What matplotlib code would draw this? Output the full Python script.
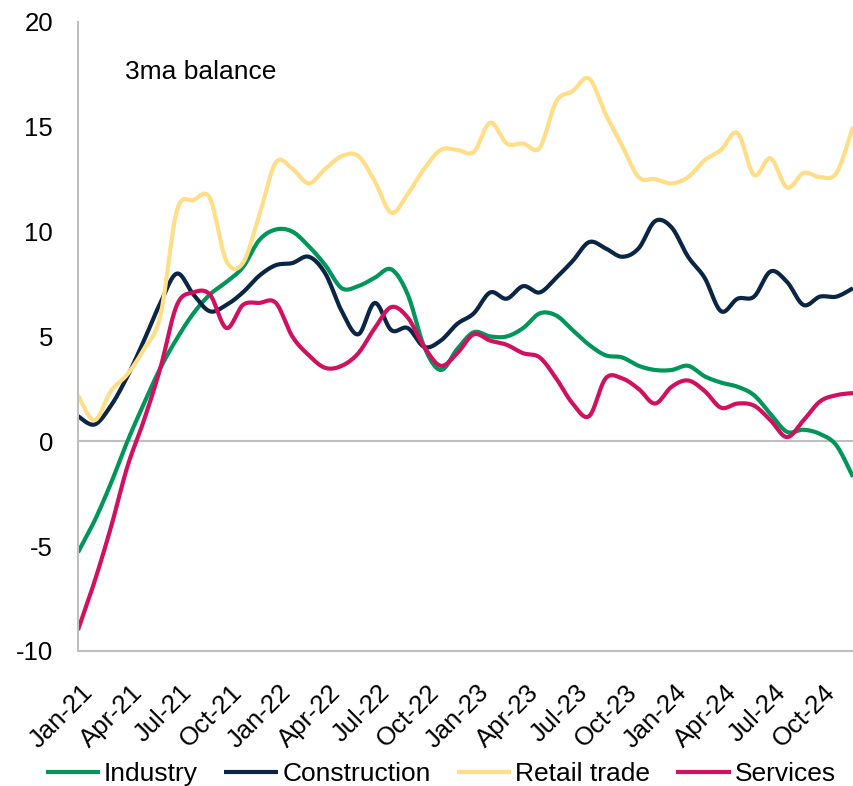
import numpy as np
import matplotlib
matplotlib.use("Agg")
import matplotlib.pyplot as plt
import matplotlib.transforms as mtransforms

plt.rcParams['font.family'] = ['Liberation Sans', 'DejaVu Sans']
plt.rcParams['axes.unicode_minus'] = False

# monthly 3ma balances, Jan-21 .. Dec-24
months = ['Jan', 'Feb', 'Mar', 'Apr', 'May', 'Jun', 'Jul', 'Aug', 'Sep', 'Oct', 'Nov', 'Dec']
years = ['21', '22', '23', '24']
dates = [m + '-' + y for y in years for m in months]

industry = [-5.3, -3.8, -2.0, 0.0, 1.8, 3.5, 4.9, 6.1, 7.0, 7.6, 8.3, 9.6,
            10.1, 10.0, 9.3, 8.4, 7.3, 7.4, 7.8, 8.2, 7.0, 4.5, 3.4, 4.4,
            5.2, 5.0, 5.0, 5.4, 6.1, 6.0, 5.3, 4.6, 4.1, 4.0, 3.6, 3.4,
            3.4, 3.6, 3.1, 2.8, 2.6, 2.2, 1.3, 0.45, 0.55, 0.35, -0.2, -1.7]
construction = [1.2, 0.8, 1.7, 3.1, 4.8, 6.6, 8.0, 7.0, 6.2, 6.5, 7.1, 7.9,
                8.4, 8.5, 8.8, 8.0, 6.2, 5.1, 6.6, 5.3, 5.4, 4.5, 4.8, 5.6,
                6.1, 7.1, 6.8, 7.4, 7.1, 7.8, 8.6, 9.5, 9.2, 8.8, 9.2, 10.5,
                10.2, 8.8, 7.8, 6.2, 6.8, 6.9, 8.1, 7.6, 6.5, 6.9, 6.9, 7.3]
retail = [2.2, 1.0, 2.4, 3.2, 4.4, 6.0, 11.0, 11.5, 11.6, 8.6, 8.5, 10.8,
          13.3, 13.0, 12.3, 13.0, 13.6, 13.6, 12.4, 10.9, 11.8, 13.0, 13.9, 13.9,
          13.8, 15.2, 14.2, 14.2, 14.0, 16.2, 16.7, 17.3, 15.6, 14.1, 12.6, 12.5,
          12.3, 12.6, 13.4, 13.9, 14.7, 12.7, 13.5, 12.1, 12.8, 12.6, 12.8, 15.0]
services = [-9.0, -6.7, -4.1, -1.2, 1.0, 3.5, 6.5, 7.1, 7.0, 5.4, 6.5, 6.6,
            6.6, 5.0, 4.1, 3.5, 3.6, 4.2, 5.4, 6.4, 5.9, 4.5, 3.6, 4.2,
            5.1, 4.8, 4.6, 4.2, 4.0, 3.0, 1.8, 1.2, 3.0, 3.0, 2.5, 1.8,
            2.6, 2.9, 2.4, 1.6, 1.8, 1.7, 1.0, 0.2, 1.0, 1.9, 2.2, 2.3]

series = [
    ('Industry', industry, '#00965A'),
    ('Construction', construction, '#0B2545'),
    ('Retail trade', retail, '#FFDE87'),
    ('Services', services, '#D1105F'),
]


# Excel-like smoothed line (Catmull-Rom through the points)
def smooth(y, steps=12):
    y = np.asarray(y, dtype=float)
    x = np.arange(len(y), dtype=float)
    px = np.concatenate([[x[0]], x, [x[-1]]])
    py = np.concatenate([[y[0]], y, [y[-1]]])
    xs, ys = [], []
    t = np.linspace(0, 1, steps, endpoint=False)
    for i in range(1, len(px) - 2):
        for p, out in ((px, xs), (py, ys)):
            p0, p1, p2, p3 = p[i - 1], p[i], p[i + 1], p[i + 2]
            out.extend(0.5 * (2 * p1 + (-p0 + p2) * t
                              + (2 * p0 - 5 * p1 + 4 * p2 - p3) * t ** 2
                              + (-p0 + 3 * p1 - 3 * p2 + p3) * t ** 3))
    xs.append(x[-1])
    ys.append(y[-1])
    return np.array(xs), np.array(ys)


fs = 18.5
fig = plt.figure(figsize=(8.54, 7.86), dpi=100)
ax = fig.add_axes([0.0913, 0.1718, 0.9075, 0.8003])

for name, vals, color in series:
    sx, sy = smooth(vals)
    ax.plot(sx, sy, color=color, lw=3, label=name, solid_capstyle='butt')

ax.axhline(0, color='#BFBFBF', lw=1.5, zorder=0)
ax.set_xlim(0, len(dates) - 1)
ax.set_ylim(-10, 20)
ax.set_yticks(range(-10, 21, 5))
ax.set_xticks(range(0, len(dates), 3))
ax.set_xticklabels(dates[::3], rotation=45, ha='right', va='top',
                   rotation_mode='anchor')
ax.tick_params(axis='both', length=0, labelsize=fs, colors='black')
ax.tick_params(axis='x', pad=21)
ax.tick_params(axis='y', pad=18)
shift = mtransforms.ScaledTranslation(0.03, 0, fig.dpi_scale_trans)
for lbl in ax.get_xticklabels():
    lbl.set_transform(lbl.get_transform() + shift)

for side in ['top', 'right']:
    ax.spines[side].set_visible(False)
for side in ['left', 'bottom']:
    ax.spines[side].set_color('#BFBFBF')
    ax.spines[side].set_linewidth(1.5)

ax.text(0.061, 0.92, '3ma balance', transform=ax.transAxes, fontsize=19,
        va='center', ha='left')

fig.legend(loc='lower center', ncol=4, frameon=False, fontsize=19,
           bbox_to_anchor=(0.516, -0.03), handlelength=2.05, handletextpad=0.15,
           columnspacing=1.0)

fig.savefig('out.png', dpi=100)
